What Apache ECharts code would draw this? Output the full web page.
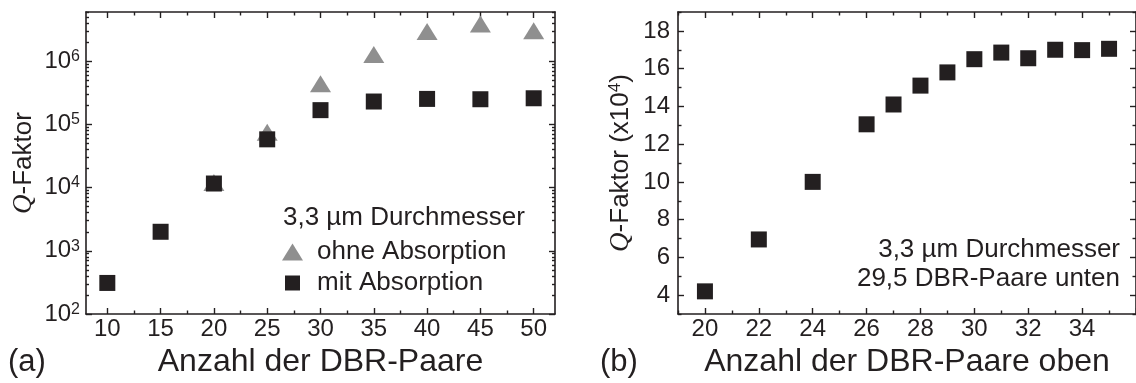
<!DOCTYPE html>
<html>
<head>
<meta charset="utf-8">
<script src="https://cdn.jsdelivr.net/npm/echarts@6/dist/echarts.min.js"></script>
<style>
  html, body { margin: 0; padding: 0; background: #ffffff; }
  #chart { width: 1136px; height: 383px; }
</style>
</head>
<body>
<div id="chart"></div>
<script>
// ---- (a) Q factor versus number of DBR pairs (log scale) ----
const pairsA = [10, 15, 20, 25, 30, 35, 40, 45, 50];
const qWithAbsorption = [310, 2000, 11600, 58000, 168000, 230000, 253000, 250000, 259000];
const qNoAbsorption = [null, null, 12000, 75000, 440000, 1280000, 2960000, 3870000, 3030000];
const xMajorA = [10, 15, 20, 25, 30, 35, 40, 45, 50];
const xMinorA = [12.5, 17.5, 22.5, 27.5, 32.5, 37.5, 42.5, 47.5];
const yDecadesA = [100, 1000, 10000, 100000, 1000000];

// ---- (b) Q factor (x10^4) versus number of upper DBR pairs ----
const pairsB = [20, 22, 24, 26, 27, 28, 29, 30, 31, 32, 33, 34, 35];
const qB = [4.2, 6.95, 10.0, 13.05, 14.1, 15.1, 15.8, 16.5, 16.85, 16.55, 17.0, 16.98, 17.05];
const xLabelsB = [20, 22, 24, 26, 28, 30, 32, 34];
const xMajorB = [20, 22, 24, 26, 28, 30, 32, 34, 36];
const xMinorB = [19, 21, 23, 25, 27, 29, 31, 33, 35];
const yMajorB = [4, 6, 8, 10, 12, 14, 16, 18];
const yMinorB = [3, 5, 7, 9, 11, 13, 15, 17, 19];

// log minor ticks 2..9 x 10^n inside the axis range
const yMinorA = [];
for (let e = 2; e <= 6; e++) {
  for (let m = 2; m <= 9; m++) {
    const v = m * Math.pow(10, e);
    if (v <= 6e6) yMinorA.push(v);
  }
}

const INK = '#231f20';
const FONT = "'Liberation Sans', Arial, sans-serif";
const SERIF = "'Liberation Serif', 'Times New Roman', serif";

function zip(xs, ys) {
  return xs.map((x, i) => [x, ys[i]]);
}

// one axis of the closed frame; ticks point into the plot
function frameAxis(base, ticks, len, opts) {
  return Object.assign({
    axisLine: { show: true, onZero: false, lineStyle: { color: INK, width: 1.6 } },
    axisTick: { show: true, inside: true, length: len, customValues: ticks,
                lineStyle: { color: INK, width: 1.4 } },
    axisLabel: { show: false },
    splitLine: { show: false }
  }, base, opts || {});
}

const supRich = {
  e: { fontSize: 16, fontFamily: FONT, color: INK, verticalAlign: 'top', padding: [0, 0, 9, 0] }
};

const gA = 0, gB = 1;
const xA = { type: 'value', gridIndex: gA, min: 8, max: 52 };
const xB = { type: 'value', gridIndex: gB, min: 19, max: 36 };
const yA = { type: 'log', logBase: 10, gridIndex: gA, min: 100, max: 6e6 };
const yB = { type: 'value', gridIndex: gB, min: 3, max: 19 };

const option = {
  animation: false,
  backgroundColor: '#ffffff',
  grid: [
    { left: 86, top: 12, width: 469, height: 308 },
    { left: 678, top: 12, width: 463, height: 307 }
  ],
  xAxis: [
    frameAxis(xA, xMajorA, 6, {
      position: 'bottom',
      axisLabel: { show: true, customValues: xMajorA, margin: 3, fontSize: 24,
                   fontFamily: FONT, color: INK },
      name: 'Anzahl der DBR-Paare', nameLocation: 'middle', nameGap: 32,
      nameTextStyle: { fontSize: 32, fontFamily: FONT, color: INK }
    }),
    frameAxis(xA, xMinorA, 3.5, { position: 'bottom', axisLine: { show: false } }),
    frameAxis(xA, xMajorA, 6, { position: 'top' }),
    frameAxis(xA, xMinorA, 3.5, { position: 'top', axisLine: { show: false } }),
    frameAxis(xB, xMajorB, 6, {
      position: 'bottom',
      axisLabel: { show: true, customValues: xLabelsB, margin: 3, fontSize: 24,
                   fontFamily: FONT, color: INK },
      name: 'Anzahl der DBR-Paare oben', nameLocation: 'middle', nameGap: 32,
      nameTextStyle: { fontSize: 32, fontFamily: FONT, color: INK }
    }),
    frameAxis(xB, xMinorB, 3.5, { position: 'bottom', axisLine: { show: false } }),
    frameAxis(xB, xMajorB, 6, { position: 'top' }),
    frameAxis(xB, xMinorB, 3.5, { position: 'top', axisLine: { show: false } })
  ],
  yAxis: [
    frameAxis(yA, yDecadesA, 6, {
      position: 'left',
      axisLabel: {
        show: true, customValues: yDecadesA, margin: 6, fontSize: 24,
        fontFamily: FONT, color: INK,
        formatter: v => '10{e|' + Math.round(Math.log10(v)) + '}',
        rich: supRich
      },
      name: '{q|Q}-Faktor', nameLocation: 'middle', nameGap: 49, nameRotate: 90,
      nameTextStyle: {
        fontSize: 26, fontFamily: FONT, color: INK,
        rich: { q: { fontSize: 27, fontFamily: SERIF, fontStyle: 'italic', color: INK } }
      }
    }),
    frameAxis(yA, yMinorA, 3, { position: 'left', axisLine: { show: false } }),
    frameAxis(yA, yDecadesA, 6, { position: 'right' }),
    frameAxis(yA, yMinorA, 3, { position: 'right', axisLine: { show: false } }),
    frameAxis(yB, yMajorB, 6, {
      position: 'left',
      axisLabel: { show: true, customValues: yMajorB, margin: 8, fontSize: 24,
                   fontFamily: FONT, color: INK },
      name: '{q|Q}-Faktor (x10{e|4})', nameLocation: 'middle', nameGap: 44, nameRotate: 90,
      nameTextStyle: {
        fontSize: 26, fontFamily: FONT, color: INK,
        rich: {
          q: { fontSize: 27, fontFamily: SERIF, fontStyle: 'italic', color: INK },
          e: { fontSize: 17, fontFamily: FONT, color: INK, verticalAlign: 'top', padding: [0, 0, 10, 0] }
        }
      }
    }),
    frameAxis(yB, yMinorB, 3.5, { position: 'left', axisLine: { show: false } }),
    frameAxis(yB, yMajorB, 6, { position: 'right' }),
    frameAxis(yB, yMinorB, 3.5, { position: 'right', axisLine: { show: false } })
  ],
  legend: [
    {
      data: ['ohne Absorption'], left: 282, top: 239, padding: 0,
      orient: 'vertical', selectedMode: false,
      icon: 'triangle', itemWidth: 21, itemHeight: 17,
      textStyle: { fontSize: 26, fontFamily: FONT, color: INK, padding: [0, 0, 0, 9] }
    },
    {
      data: ['mit Absorption'], left: 285, top: 270, padding: 0,
      orient: 'vertical', selectedMode: false,
      icon: 'rect', itemWidth: 15, itemHeight: 15,
      textStyle: { fontSize: 26, fontFamily: FONT, color: INK, padding: [0, 0, 0, 12] }
    }
  ],
  graphic: [
    { type: 'text', x: 283, y: 218,
      style: { text: '3,3 µm Durchmesser', fontSize: 26, fontFamily: FONT, fill: INK,
               align: 'left', verticalAlign: 'middle' } },
    { type: 'text', x: 1120, y: 250,
      style: { text: '3,3 µm Durchmesser', fontSize: 26, fontFamily: FONT, fill: INK,
               align: 'right', verticalAlign: 'middle' } },
    { type: 'text', x: 1120, y: 279,
      style: { text: '29,5 DBR-Paare unten', fontSize: 26, fontFamily: FONT, fill: INK,
               align: 'right', verticalAlign: 'middle' } },
    { type: 'text', x: 8, y: 362,
      style: { text: '(a)', fontSize: 31, fontFamily: FONT, fill: INK,
               align: 'left', verticalAlign: 'middle' } },
    { type: 'text', x: 600, y: 362,
      style: { text: '(b)', fontSize: 31, fontFamily: FONT, fill: INK,
               align: 'left', verticalAlign: 'middle' } }
  ],
  series: [
    {
      name: 'ohne Absorption', type: 'scatter', xAxisIndex: 0, yAxisIndex: 0,
      symbol: 'triangle', symbolSize: [21, 17],
      itemStyle: { color: '#8f8f8f', opacity: 1 },
      data: zip(pairsA, qNoAbsorption).filter(p => p[1] != null)
    },
    {
      name: 'mit Absorption', type: 'scatter', xAxisIndex: 0, yAxisIndex: 0,
      symbol: 'rect', symbolSize: 16,
      itemStyle: { color: INK, opacity: 1 },
      data: zip(pairsA, qWithAbsorption)
    },
    {
      name: 'Q-Faktor oben', type: 'scatter', xAxisIndex: 4, yAxisIndex: 4,
      symbol: 'rect', symbolSize: 16,
      itemStyle: { color: INK, opacity: 1 },
      data: zip(pairsB, qB)
    }
  ]
};

const chart = echarts.init(document.getElementById('chart'), null, { renderer: 'canvas' });
chart.setOption(option);
</script>
</body>
</html>
